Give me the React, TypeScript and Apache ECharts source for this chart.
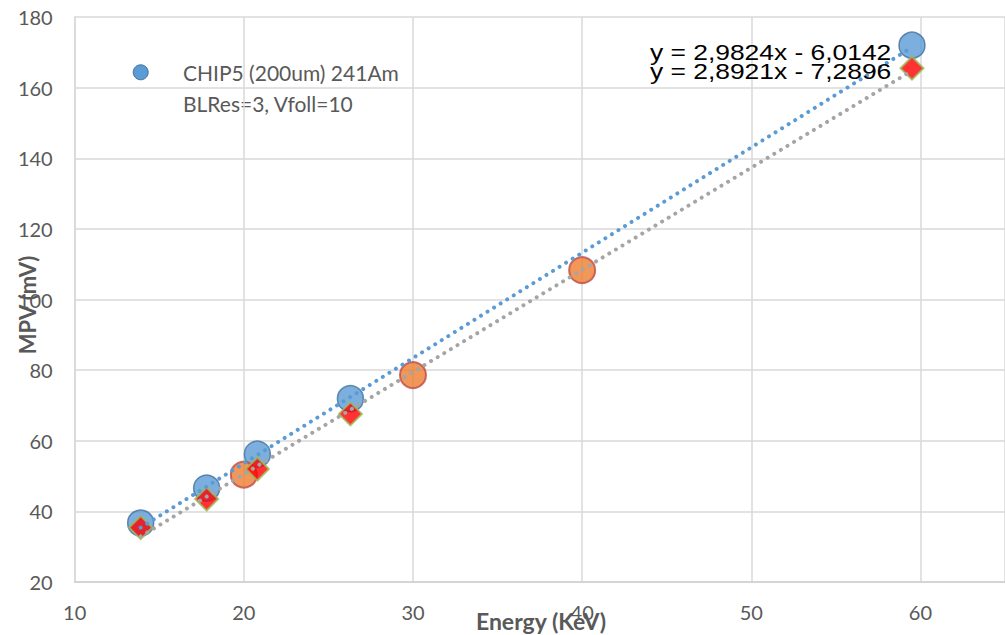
import React, { useEffect, useRef } from "react";
import * as echarts from "echarts";

const blueCircles: [number, number][] = [
  [13.9, 36.7],
  [17.8, 46.6],
  [20.8, 56.2],
  [26.3, 71.9],
  [59.5, 172.0],
];
const orangeCircles: [number, number][] = [
  [20, 50.4],
  [30, 78.6],
  [40, 108.3],
];
const redDiamonds: [number, number][] = [
  [13.9, 35.4],
  [17.8, 43.5],
  [20.8, 52.0],
  [26.3, 67.6],
  [59.5, 165.5],
];
const blueTrend: [number, number][] = [
  [13.9, 35.4],
  [59.5, 171.4],
];
const greyTrend: [number, number][] = [
  [13.9, 32.9],
  [59.5, 164.8],
];
const legendLines = ["CHIP5 (200um) 241Am", "BLRes=3, Vfoll=10"];
const equations = ["y = 2,9824x - 6,0142", "y = 2,8921x - 7,2896"];
const xTitle = "Energy (KeV)";
const yTitle = "MPV (mV)";

export default function App() {
  const ref = useRef<HTMLDivElement>(null);
  useEffect(() => {
    document.body.style.margin = "0";
    const chart = echarts.init(ref.current!, null, { renderer: "svg" });
    const tickColor = "#595959";
    const font = "Lato, 'Open Sans', sans-serif";
    const eqFont = "22px 'Liberation Sans', Arial, sans-serif";
    chart.setOption({
      animation: false,
      backgroundColor: "#ffffff",
      grid: { left: 74.7, top: 17, width: 939, height: 565 },
      xAxis: {
        type: "value",
        min: 10,
        max: 65,
        interval: 10,
        axisLine: { show: true, lineStyle: { color: "#D0D0D0", width: 1.5 } },
        axisTick: { show: false },
        axisLabel: {
          color: tickColor,
          fontSize: 20,
          fontFamily: font,
          margin: 20,
          showMaxLabel: false,
        },
        splitLine: { show: true, lineStyle: { color: "#D9D9D9", width: 1.5 } },
      },
      yAxis: {
        type: "value",
        min: 20,
        max: 180,
        interval: 20,
        axisLine: { show: true, lineStyle: { color: "#D9D9D9", width: 1.5 } },
        axisTick: { show: false },
        axisLabel: { color: tickColor, fontSize: 20, fontFamily: font, margin: 22 },
        splitLine: { show: true, lineStyle: { color: "#D9D9D9", width: 1.5 } },
      },
      series: [
        {
          type: "scatter",
          data: blueCircles,
          symbol: "circle",
          symbolSize: 26,
          itemStyle: { color: "#5B9BD5", borderColor: "#41719C", borderWidth: 1.5 },
          z: 2,
        },
        {
          type: "scatter",
          data: orangeCircles,
          symbol: "circle",
          symbolSize: 26,
          itemStyle: { color: "#ED7D31", borderColor: "#BE4B48", borderWidth: 2 },
          z: 2,
        },
        {
          type: "scatter",
          data: redDiamonds,
          symbol: "diamond",
          symbolSize: 23,
          itemStyle: { color: "#FF0000", borderColor: "#9BBB59", borderWidth: 2 },
          z: 3,
        },
        {
          type: "line",
          data: blueTrend,
          symbol: "none",
          lineStyle: { color: "#5B9BD5", width: 4, type: [0.01, 7.7], cap: "round" },
          z: 4,
        },
        {
          type: "line",
          data: greyTrend,
          symbol: "none",
          lineStyle: { color: "#A5A5A5", width: 4, type: [0.01, 7.7], cap: "round" },
          z: 4,
        },
      ],
      graphic: [
        {
          type: "circle",
          shape: { cx: 140.7, cy: 72.3, r: 7.5 },
          style: { fill: "#5B9BD5", stroke: "#41719C", lineWidth: 1 },
        },
        {
          type: "text",
          x: 183,
          y: 72,
          style: {
            text: legendLines[0],
            fill: tickColor,
            font: `21px ${font}`,
            verticalAlign: "middle",
          },
        },
        {
          type: "text",
          x: 183,
          y: 103,
          style: {
            text: legendLines[1],
            fill: tickColor,
            font: `21px ${font}`,
            verticalAlign: "middle",
          },
        },
        {
          type: "text",
          x: 650,
          y: 52,
          scaleX: 1.2,
          z: 10,
          style: {
            text: equations[0],
            fill: "#000000",
            font: eqFont,
            verticalAlign: "middle",
          },
        },
        {
          type: "text",
          x: 650,
          y: 71,
          scaleX: 1.2,
          z: 10,
          style: {
            text: equations[1],
            fill: "#000000",
            font: eqFont,
            verticalAlign: "middle",
          },
        },
        {
          type: "text",
          x: 541,
          y: 621,
          z: 10,
          style: {
            text: xTitle,
            fill: tickColor,
            font: `bold 23px ${font}`,
            align: "center",
            verticalAlign: "middle",
          },
        },
        {
          type: "text",
          x: 27,
          y: 305,
          rotation: Math.PI / 2,
          z: 10,
          style: {
            text: yTitle,
            fill: tickColor,
            font: `bold 22px ${font}`,
            align: "center",
            verticalAlign: "middle",
          },
        },
      ],
    });
    return () => chart.dispose();
  }, []);
  return <div ref={ref} style={{ width: 1005, height: 635 }} />;
}
